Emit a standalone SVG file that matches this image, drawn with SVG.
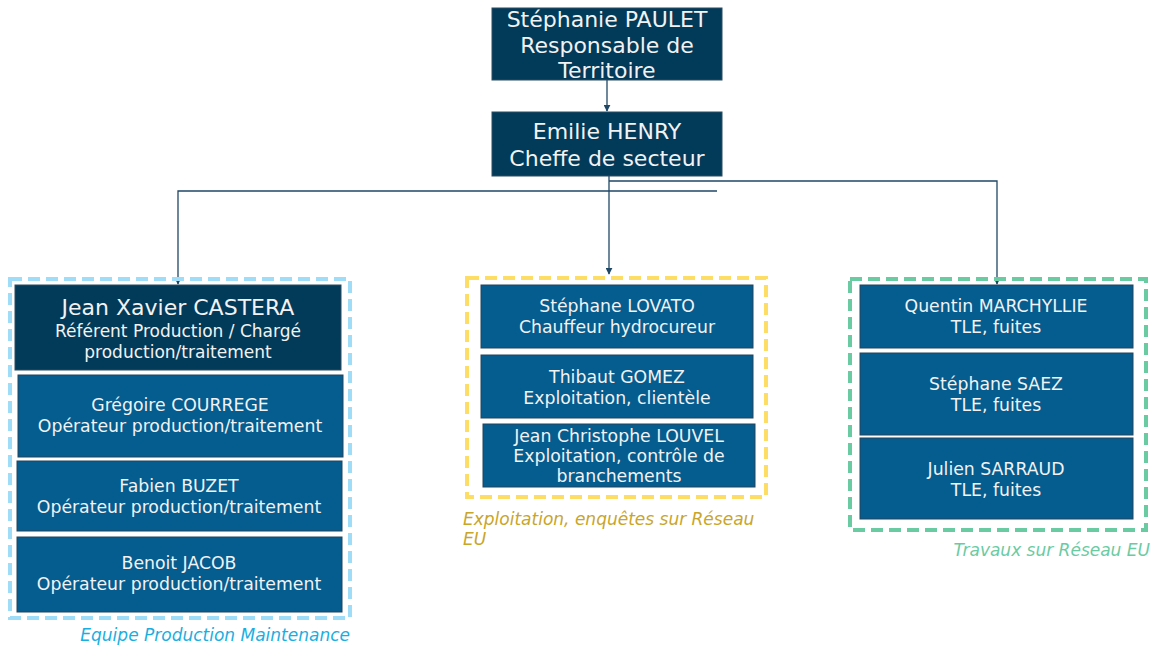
<svg xmlns="http://www.w3.org/2000/svg" width="1158" height="650" viewBox="0 0 1158 650">
<defs>
<marker id="arr" viewBox="0 0 10 10" refX="9" refY="5" markerWidth="7" markerHeight="7" orient="auto" markerUnits="userSpaceOnUse">
<path d="M0,0 L10,5 L0,10 z" fill="#1f4766"/>
</marker>
<style>
text{font-family:"DejaVu Sans","Verdana",sans-serif;fill:#f2f2f2;text-anchor:middle}
.dark{fill:#023a59;stroke:#2b4c63;stroke-width:1}
.mid{fill:#045c8f;stroke:#24455c;stroke-width:1}
.big{font-size:22px}
.md{font-size:17.3px}
.sm{font-size:17px}
.conn{fill:none;stroke:#1f4766;stroke-width:1.3}
.grp{fill:none;stroke-width:4;stroke-dasharray:12 6}
.lbl{font-size:17px;font-style:italic}
</style>
</defs>
<rect width="1158" height="650" fill="#ffffff"/>

<g id="connectors">
<path class="conn" d="M607,80 L607,111" marker-end="url(#arr)"/>
<path class="conn" d="M609,176 L609,274" marker-end="url(#arr)"/>
<path class="conn" d="M717,191 L178,191 L178,284" marker-end="url(#arr)"/>
<path class="conn" d="M609,181 L997,181 L997,284" marker-end="url(#arr)"/>
</g>

<g id="group-production">
<rect class="grp" x="10" y="279" width="340" height="339" stroke="#9fdcf8"/>
<text class="lbl" x="350" y="641" style="text-anchor:end;fill:#1aaee0">Equipe Production Maintenance</text>
</g>
<g id="group-exploitation">
<rect class="grp" x="467" y="278" width="299" height="219" stroke="#fddd63"/>
<text class="lbl" x="463" y="525" style="text-anchor:start;fill:#c9a52a">Exploitation, enquêtes sur Réseau</text>
<text class="lbl" x="463" y="545" style="text-anchor:start;fill:#c9a52a">EU</text>
</g>
<g id="group-travaux">
<rect class="grp" x="850" y="279" width="296" height="251" stroke="#6acba3"/>
<text class="lbl" x="1150" y="556" style="text-anchor:end;fill:#6acba3">Travaux sur Réseau EU</text>
</g>

<g id="node-paulet">
<rect class="dark" x="492" y="8" width="230" height="72"/>
<text class="big" x="607" y="27">Stéphanie PAULET</text>
<text class="big" x="607" y="53">Responsable de</text>
<text class="big" x="607" y="78">Territoire</text>
</g>
<g id="node-henry">
<rect class="dark" x="492" y="112" width="230" height="64"/>
<text class="big" x="607" y="139">Emilie HENRY</text>
<text class="big" x="607" y="166">Cheffe de secteur</text>
</g>

<g id="node-castera">
<rect class="dark" x="15" y="285" width="326" height="85"/>
<text class="big" x="178" y="315">Jean Xavier CASTERA</text>
<text class="sm" x="178" y="337">Référent Production / Chargé</text>
<text class="sm" x="178" y="358">production/traitement</text>
</g>
<g id="node-courrege">
<rect class="mid" x="18" y="375" width="325" height="82"/>
<text class="md" x="180" y="411">Grégoire COURREGE</text>
<text class="md" x="180" y="432">Opérateur production/traitement</text>
</g>
<g id="node-buzet">
<rect class="mid" x="17" y="461" width="325" height="70"/>
<text class="md" x="179" y="492">Fabien BUZET</text>
<text class="md" x="179" y="513">Opérateur production/traitement</text>
</g>
<g id="node-jacob">
<rect class="mid" x="17" y="537" width="325" height="75"/>
<text class="md" x="179" y="569">Benoit JACOB</text>
<text class="md" x="179" y="590">Opérateur production/traitement</text>
</g>

<g id="node-lovato">
<rect class="mid" x="481" y="285" width="272" height="63"/>
<text class="md" x="617" y="312">Stéphane LOVATO</text>
<text class="md" x="617" y="333">Chauffeur hydrocureur</text>
</g>
<g id="node-gomez">
<rect class="mid" x="481" y="355" width="272" height="63"/>
<text class="md" x="617" y="383">Thibaut GOMEZ</text>
<text class="md" x="617" y="404">Exploitation, clientèle</text>
</g>
<g id="node-louvel">
<rect class="mid" x="483" y="424" width="272" height="63"/>
<text class="md" x="619" y="442">Jean Christophe LOUVEL</text>
<text class="md" x="619" y="462">Exploitation, contrôle de</text>
<text class="md" x="619" y="482">branchements</text>
</g>

<g id="node-marchyllie">
<rect class="mid" x="860" y="285" width="273" height="63"/>
<text class="md" x="996" y="312">Quentin MARCHYLLIE</text>
<text class="md" x="996" y="333">TLE, fuites</text>
</g>
<g id="node-saez">
<rect class="mid" x="860" y="353" width="273" height="82"/>
<text class="md" x="996" y="390">Stéphane SAEZ</text>
<text class="md" x="996" y="411">TLE, fuites</text>
</g>
<g id="node-sarraud">
<rect class="mid" x="860" y="438" width="273" height="81"/>
<text class="md" x="996" y="475">Julien SARRAUD</text>
<text class="md" x="996" y="496">TLE, fuites</text>
</g>
</svg>
